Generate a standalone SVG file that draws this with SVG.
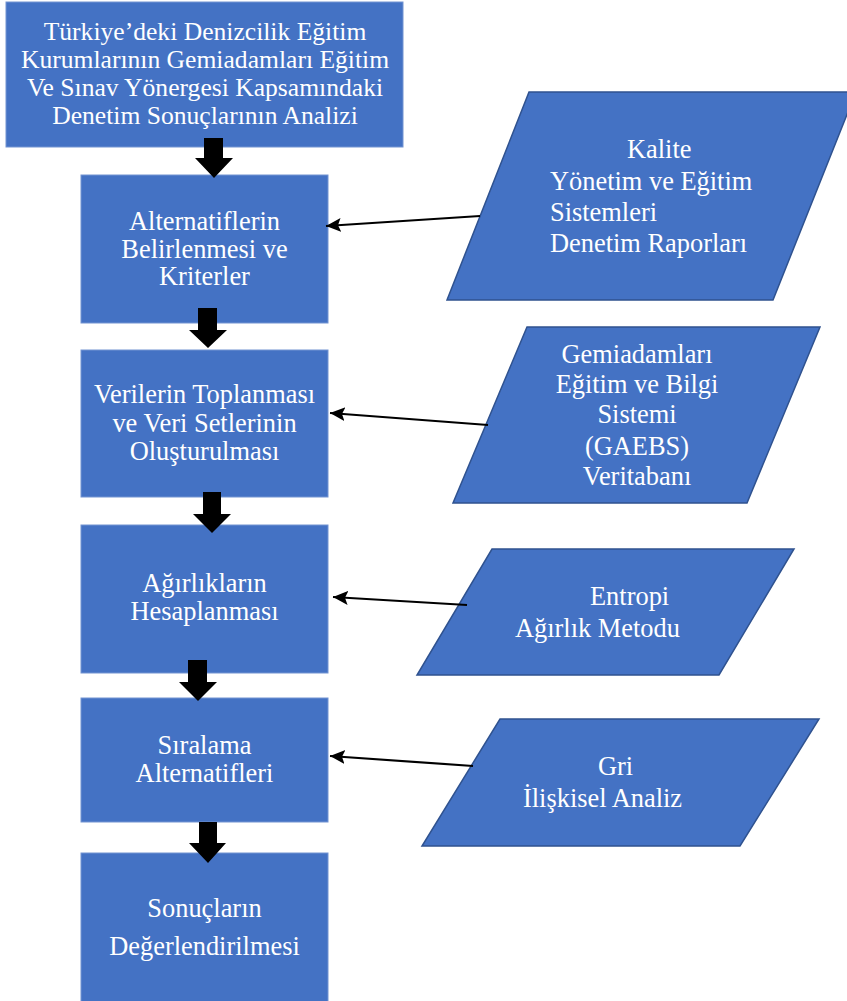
<svg xmlns="http://www.w3.org/2000/svg" width="847" height="1001" viewBox="0 0 847 1001">
<style>
.box{fill:#4472C4;stroke:#7394D2;stroke-width:1}
.para{fill:#4472C4;stroke:#2F528F;stroke-width:1.5}
.t{font-family:"Liberation Serif","Times New Roman",serif;font-size:26.4px;fill:#FFFFFF}
.s{font-size:25.6px}
.m{text-anchor:middle}
.blk{fill:#000000}
.con{stroke:#000000;stroke-width:2.2;fill:none}
</style>
<defs>
<marker id="ah" markerUnits="userSpaceOnUse" markerWidth="18" markerHeight="16" refX="15" refY="7" orient="auto">
<path d="M0,0 L15,7 L0,14 L3,7 z" fill="#000000"/>
</marker>
</defs>
<rect width="847" height="1001" fill="#FFFFFF"/>
<g id="n1">
<rect class="box" x="6" y="2" width="397" height="145"/>
<text class="t s m" x="205" y="40">Türkiye’deki Denizcilik Eğitim</text>
<text class="t s m" x="205" y="68">Kurumlarının Gemiadamları Eğitim</text>
<text class="t s m" x="205" y="96">Ve Sınav Yönergesi Kapsamındaki</text>
<text class="t s m" x="205" y="124">Denetim Sonuçlarının Analizi</text>
</g>
<g id="n2">
<rect class="box" x="81" y="175" width="247" height="148"/>
<text class="t m" x="204.5" y="230">Alternatiflerin</text>
<text class="t m" x="204.5" y="258">Belirlenmesi ve</text>
<text class="t m" x="204.5" y="285">Kriterler</text>
</g>
<g id="n3">
<rect class="box" x="81" y="350" width="247" height="147"/>
<text class="t m" x="204.5" y="403">Verilerin Toplanması</text>
<text class="t m" x="204.5" y="432">ve Veri Setlerinin</text>
<text class="t m" x="204.5" y="460">Oluşturulması</text>
</g>
<g id="n4">
<rect class="box" x="81" y="525" width="247" height="148"/>
<text class="t m" x="204.5" y="592">Ağırlıkların</text>
<text class="t m" x="204.5" y="620">Hesaplanması</text>
</g>
<g id="n5">
<rect class="box" x="81" y="698" width="247" height="124"/>
<text class="t m" x="204.5" y="754">Sıralama</text>
<text class="t m" x="204.5" y="782">Alternatifleri</text>
</g>
<g id="n6">
<rect class="box" x="81" y="853" width="247" height="150"/>
<text class="t m" x="204.5" y="917">Sonuçların</text>
<text class="t m" x="204.5" y="955">Değerlendirilmesi</text>
</g>
<g id="p1">
<polygon class="para" points="529,92 856,92 773,300 447,300"/>
<text class="t" x="627" y="158">Kalite</text>
<text class="t" x="550" y="190">Yönetim ve Eğitim</text>
<text class="t" x="550" y="221">Sistemleri</text>
<text class="t" x="550" y="252">Denetim Raporları</text>
</g>
<g id="p2">
<polygon class="para" points="527,327 820,327 747,503 453,503"/>
<text class="t m" x="637" y="363">Gemiadamları</text>
<text class="t m" x="637" y="393">Eğitim ve Bilgi</text>
<text class="t m" x="637" y="423">Sistemi</text>
<text class="t m" x="637" y="455">(GAEBS)</text>
<text class="t m" x="637" y="485">Veritabanı</text>
</g>
<g id="p3">
<polygon class="para" points="492,549 794,549 719,675 417,675"/>
<text class="t" x="590" y="605">Entropi</text>
<text class="t" x="515" y="637">Ağırlık Metodu</text>
</g>
<g id="p4">
<polygon class="para" points="500,719 819,719 740,846 422,846"/>
<text class="t" x="598" y="775">Gri</text>
<text class="t" x="523" y="807">İlişkisel Analiz</text>
</g>
<g id="connectors">
<polygon class="blk" points="204,138 223,138 223,158 233,158 214,178 195,158 204,158"/>
<polygon class="blk" points="198,308 217,308 217,330 227,330 208,348 189,330 198,330"/>
<polygon class="blk" points="203,492 221,492 221,514 231,514 212,533 193,514 203,514"/>
<polygon class="blk" points="188,660 207,660 207,682 217,682 198,701 179,682 188,682"/>
<polygon class="blk" points="199,822 217,822 217,843 226,843 208,863 189,843 199,843"/>
<line class="con" x1="480" y1="216" x2="326" y2="226" marker-end="url(#ah)"/>
<line class="con" x1="488" y1="425" x2="330" y2="413" marker-end="url(#ah)"/>
<line class="con" x1="467" y1="605" x2="333" y2="597" marker-end="url(#ah)"/>
<line class="con" x1="473" y1="766" x2="330" y2="756" marker-end="url(#ah)"/>
</g>
</svg>
